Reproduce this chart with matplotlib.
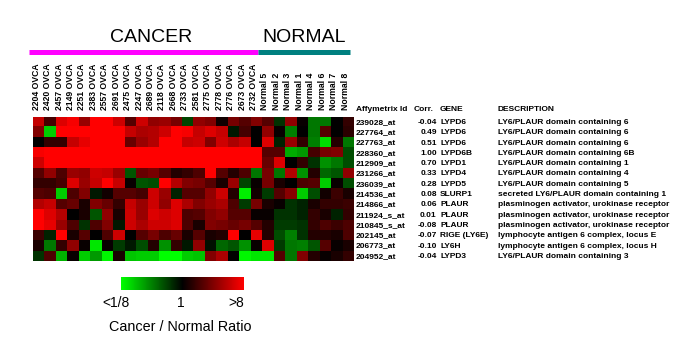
import matplotlib
matplotlib.use("Agg")
import matplotlib.pyplot as plt
import numpy as np
from matplotlib.colors import LinearSegmentedColormap
from matplotlib.transforms import blended_transform_factory

plt.rcParams['font.family'] = ['Liberation Sans', 'DejaVu Sans']

# samples
cancer_ids = ["2204", "2420", "2457", "2149", "2251", "2383", "2557", "2691", "2475", "2247",
              "2689", "2118", "2668", "2733", "2581", "2775", "2778", "2776", "2673", "2732"]
normal_ids = ["5", "2", "3", "1", "4", "6", "7", "8"]
col_labels = [c + " OVCA" for c in cancer_ids] + ["Normal " + n for n in normal_ids]

# genes
affy_ids = ["239028_at", "227764_at", "227763_at", "228360_at", "212909_at", "231266_at", "236039_at",
            "214536_at", "214866_at", "211924_s_at", "210845_s_at", "202145_at", "206773_at", "204952_at"]
corr = [-0.04, 0.49, 0.51, 1.00, 0.70, 0.33, 0.28, 0.08, 0.06, 0.01, -0.08, -0.07, -0.10, -0.04]
genes = ["LYPD6", "LYPD6", "LYPD6", "LYPD6B", "LYPD1", "LYPD4", "LYPD5", "SLURP1", "PLAUR", "PLAUR",
         "PLAUR", "RIGE (LY6E)", "LY6H", "LYPD3"]
descriptions = ["LY6/PLAUR domain containing 6", "LY6/PLAUR domain containing 6",
                "LY6/PLAUR domain containing 6", "LY6/PLAUR domain containing 6B",
                "LY6/PLAUR domain containing 1", "LY6/PLAUR domain containing 4",
                "LY6/PLAUR domain containing 5", "secreted LY6/PLAUR domain containing 1",
                "plasminogen activator, urokinase receptor", "plasminogen activator, urokinase receptor",
                "plasminogen activator, urokinase receptor", "lymphocyte antigen 6 complex, locus E",
                "lymphocyte antigen 6 complex, locus H", "LY6/PLAUR domain containing 3"]

# log2 cancer/normal ratio (+-3 = >8 / <1/8)
ratio = np.array([
    [2.3, 0.8, 2.6, 2.9, 1.8, 3.0, 3.0, 2.4, 1.0, 2.4, 1.7, 1.8, 1.4, -0.8, 1.7, 1.5, 0.2, 1.4, 1.0, 1.5, 1.0, -0.6, 1.7, 0.1, -1.4, -1.4, 0.0, 0.6],
    [1.5, -2.4, 3.0, 3.0, 3.0, 3.0, 3.0, 3.0, 2.3, 2.0, 2.1, 2.4, 3.0, 2.9, 2.3, 2.6, 2.3, -0.3, 0.8, 0.0, 1.7, 0.1, -1.5, 0.0, -1.4, 1.0, 0.0, 0.5],
    [0.0, 0.6, 0.6, 2.3, 2.7, 3.0, 3.0, 3.0, 1.2, 1.8, 2.1, 3.0, 3.0, 2.3, 2.4, 1.5, 2.4, 2.0, 2.3, 0.0, 2.6, -0.4, 1.8, 0.6, -1.5, -2.6, 0.4, -1.4],
    [2.9, 3.0, 3.0, 3.0, 3.0, 3.0, 3.0, 3.0, 3.0, 3.0, 3.0, 3.0, 3.0, 3.0, 3.0, 3.0, 3.0, 3.0, 3.0, 3.0, 1.0, 1.0, -2.0, -1.8, 0.8, 1.4, 1.5, -0.9],
    [2.4, 3.0, 3.0, 3.0, 3.0, 3.0, 3.0, 3.0, 3.0, 3.0, 3.0, 3.0, 3.0, 3.0, 3.0, 3.0, 3.0, 3.0, 3.0, 3.0, 1.2, 2.6, 0.0, 0.6, -0.6, -1.7, -1.4, -0.9],
    [1.0, 1.7, 0.9, 1.8, 1.7, 2.4, 2.3, 1.8, -1.0, 1.2, 1.4, 1.0, 0.4, 0.6, 0.9, 3.0, 1.0, 0.4, 0.9, -1.4, 1.4, -1.4, 2.1, -1.7, 0.4, -1.2, -1.0, 1.7],
    [0.6, 0.6, 0.8, 2.6, 1.8, 2.3, 3.0, 2.3, 0.1, -1.0, -0.9, 3.0, 2.1, 1.5, 1.4, 1.0, 0.3, 1.8, -0.8, 0.1, 1.4, 0.3, 0.0, 0.9, 1.0, -2.4, 0.1, -0.9],
    [1.0, 0.9, -2.4, 0.9, 1.5, -0.3, 0.2, 1.0, 1.0, 0.8, 2.4, 1.8, -0.4, 1.0, 1.0, 1.7, 2.4, 0.4, -2.8, 0.2, -0.7, 1.0, 1.6, -2.4, -0.9, 0.2, 0.7, 0.3],
    [2.1, 2.3, 1.0, 1.2, 0.3, 1.5, 1.2, 0.6, 2.3, 1.8, 2.4, 1.7, 2.6, 2.0, 1.5, 1.8, 2.0, 0.9, -0.7, 1.4, 0.3, 0.1, -0.6, -0.4, 0.3, 0.6, 0.6, 0.7],
    [3.0, 2.6, 2.1, 0.0, 0.3, -1.0, 1.7, 0.3, 2.4, 1.8, 2.6, 2.4, 2.6, 0.9, 1.0, 1.5, 1.7, 1.0, 1.0, 0.1, 0.1, -0.6, -0.6, -0.4, 0.6, 0.3, -0.4, 0.6],
    [3.0, 2.7, 1.8, 0.9, -0.6, 0.9, 1.5, -0.3, 2.4, 2.0, 2.4, 2.4, 2.6, 0.9, 0.3, 1.5, 1.4, 1.2, 1.4, 1.0, 0.4, -0.7, -0.7, -0.6, 0.6, 0.9, 0.7, 0.9],
    [0.7, -0.4, 3.0, 0.3, 1.0, 0.0, 0.9, 2.4, 0.0, 1.0, 1.4, 0.9, 1.2, 0.3, 1.0, 0.3, 0.4, 3.0, 0.0, 2.7, 0.4, -0.9, -1.5, -0.6, 0.4, 0.4, 0.3, 0.9],
    [0.3, -1.4, 0.6, 1.7, 0.1, -2.7, 0.1, -0.7, -0.3, -0.9, 0.4, -1.7, 0.6, -0.3, 1.7, -0.2, -1.2, -1.0, -1.7, 0.1, 2.6, -0.7, -1.4, -1.5, -1.0, 1.0, 0.1, 0.3],
    [-0.6, 0.9, -2.1, 0.1, -2.4, -1.8, -2.9, 0.3, -2.3, -2.4, -2.4, -3.0, -3.0, -2.4, -2.3, 1.5, 2.0, 0.0, -2.9, -2.7, -2.7, 1.0, -1.4, 1.5, 0.4, 0.1, 0.3, 0.6],
])

cmap = LinearSegmentedColormap.from_list("gr", ["#00ff00", "#000000", "#ff0000"])

fig = plt.figure(figsize=(7, 3.51), dpi=100)

# heatmap
ax = fig.add_axes([0.0467, 0.255, 0.4576, 0.4108])
im = ax.imshow(ratio, cmap=cmap, vmin=-3, vmax=3, aspect='auto', interpolation='nearest')
ax.axis('off')

# column labels above the map
xt = ax.get_xaxis_transform()
for i, lab in enumerate(col_labels):
    ax.text(i - 0.2, 1.048, lab, transform=xt, rotation=90, ha='center', va='bottom',
            fontsize=6.2, fontweight='bold')

# group bars + titles
n_cancer = len(cancer_ids)
n_all = len(col_labels)
ax.plot([-0.8, n_cancer - 0.8], [1.454, 1.454], transform=xt, color='#ff00ff', lw=3.6,
        solid_capstyle='butt', clip_on=False, scalex=False, scaley=False)
ax.plot([n_cancer - 0.8, n_all - 0.8], [1.454, 1.454], transform=xt, color='#008080', lw=3.6,
        solid_capstyle='butt', clip_on=False, scalex=False, scaley=False)
ax.set_xlim(-0.5, n_all - 0.5)
ax.set_ylim(len(affy_ids) - 0.5, -0.5)
fig.text(0.2157, 0.8932, "CANCER", ha='center', va='center', fontsize=14)
fig.text(0.4343, 0.8932, "NORMAL", ha='center', va='center', fontsize=14)

# gene table to the right
tr = blended_transform_factory(fig.transFigure, ax.transData)
hdr_y = -1.3
fig.text(0.5086, hdr_y, "Affymetrix Id", transform=tr, va='center', fontsize=6, fontweight='bold')
fig.text(0.5914, hdr_y, "Corr.", transform=tr, va='center', fontsize=6, fontweight='bold')
fig.text(0.6286, hdr_y, "GENE", transform=tr, va='center', fontsize=6, fontweight='bold')
fig.text(0.711, hdr_y, "DESCRIPTION", transform=tr, va='center', fontsize=6, fontweight='bold')
for r in range(len(affy_ids)):
    fig.text(0.5086, r, affy_ids[r], transform=tr, va='center', fontsize=6, fontweight='bold')
    fig.text(0.6239, r, "%.2f" % corr[r], transform=tr, va='center', ha='right', fontsize=6, fontweight='bold')
    fig.text(0.6286, r, genes[r], transform=tr, va='center', fontsize=6, fontweight='bold')
    fig.text(0.711, r, descriptions[r], transform=tr, va='center', fontsize=6, fontweight='bold')

# colour key
cax = fig.add_axes([0.1729, 0.1738, 0.1757, 0.0362])
cb = fig.colorbar(im, cax=cax, orientation='horizontal')
cb.outline.set_visible(False)
cax.set_xticks([])
fig.text(116 / 700, 0.1359, "<1/8", ha='center', va='center', fontsize=10)
fig.text(181 / 700, 0.1359, "1", ha='center', va='center', fontsize=10)
fig.text(236 / 700, 0.1359, ">8", ha='center', va='center', fontsize=10)
fig.text(180 / 700, 1 - 327 / 351, "Cancer / Normal Ratio", ha='center', va='center', fontsize=10.4)

plt.savefig('out.png', dpi=100)
